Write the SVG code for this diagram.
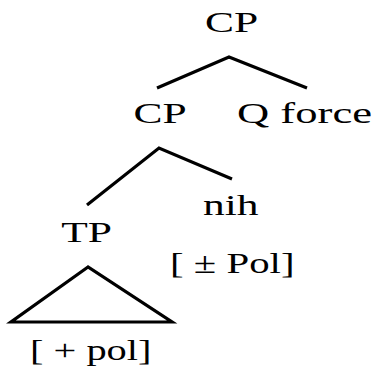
<svg xmlns="http://www.w3.org/2000/svg" width="380" height="374" viewBox="0 0 380 374">
<style>
text{font-family:"Liberation Serif","Times New Roman",serif;font-size:29px;fill:#000}
.e{fill:none;stroke:#000;stroke-width:3.2;stroke-linecap:butt;stroke-linejoin:miter}
</style>
<rect width="380" height="374" fill="#fff"/>
<g id="connectors">
<polyline class="e" points="157,88 229,57 307,88"/>
<polyline class="e" points="87,205 159,148 232,179"/>
</g>
<g id="cp-root"><text transform="translate(231.5,32) scale(1.5,1)" text-anchor="middle">CP</text></g>
<g id="cp"><text transform="translate(160,123) scale(1.5,1)" text-anchor="middle">CP</text></g>
<g id="qforce"><text transform="translate(237,123) scale(1.5,1)" textLength="90" lengthAdjust="spacingAndGlyphs">Q force</text></g>
<g id="tp"><text transform="translate(86.5,242) scale(1.5,1)" text-anchor="middle">TP</text>
<polygon class="e" points="88,267 11,322 172,322"/>
<text transform="translate(30,360) scale(1.5,1)" textLength="81" lengthAdjust="spacingAndGlyphs">[ + pol]</text></g>
<g id="nih"><text transform="translate(203,215) scale(1.5,1)">nih</text>
<text transform="translate(170,273) scale(1.5,1)" textLength="83" lengthAdjust="spacingAndGlyphs">[ ± Pol]</text></g>
</svg>
